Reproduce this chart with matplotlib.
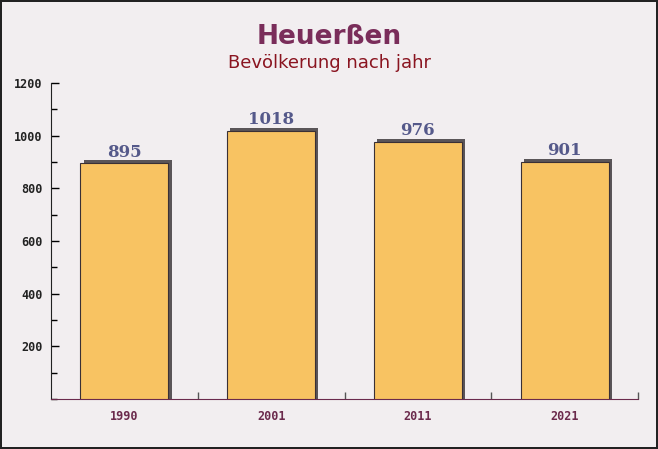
import matplotlib
matplotlib.use("Agg")
import matplotlib.pyplot as plt
from matplotlib.ticker import MultipleLocator

# Daten
jahre = ["1990", "2001", "2011", "2021"]
einwohner = [895, 1018, 976, 901]

titel = "Heuerßen"
untertitel = "Bevölkerung nach jahr"

fig = plt.figure(figsize=(6.58, 4.49), dpi=100)
fig.patch.set_facecolor("#f2eef0")
fig.patch.set_edgecolor("#222222")
fig.patch.set_linewidth(1.5)

ax = fig.add_axes([51 / 658, 50 / 449, 587 / 658, 316 / 449])
ax.set_facecolor("none")

x = list(range(len(jahre)))
breite = 0.6

# Schatten (3D-Effekt)
ax.bar([i + 0.022 for i in x], [v + 12 for v in einwohner], width=breite,
       color="#5a5558", zorder=2)
ax.bar(x, einwohner, width=breite, color="#f8c362", edgecolor="#3a3035",
       linewidth=0.8, zorder=3)

for i, v in zip(x, einwohner):
    ax.annotate(str(v), (i, v), xytext=(0, 2), textcoords="offset points",
                ha="center", va="bottom", fontsize=12, fontweight="bold",
                color="#55598a", family="DejaVu Serif", zorder=4)

ax.set_xlim(-0.5, len(jahre) - 0.5)
ax.set_ylim(0, 1200)
ax.yaxis.set_major_locator(MultipleLocator(200))
ax.yaxis.set_minor_locator(MultipleLocator(100))
ax.set_yticks([200, 400, 600, 800, 1000, 1200])
ax.set_xticks(x)
ax.set_xticklabels(jahre)
ax.set_xticks([0.5, 1.5, 2.5, 3.5], minor=True)

ax.tick_params(axis="y", which="major", direction="in", length=6, width=1,
               labelsize=8.5, labelcolor="#222222", pad=6)
ax.tick_params(axis="y", which="minor", direction="in", length=4, width=1)
ax.tick_params(axis="x", which="major", length=0, labelsize=8.5,
               labelcolor="#6b2a4c", pad=8)
ax.tick_params(axis="x", which="minor", direction="in", length=5, width=1,
               color="#555555")
for lab in ax.get_yticklabels() + ax.get_xticklabels():
    lab.set_family("DejaVu Sans Mono")
    lab.set_fontweight("bold")

for s in ["top", "right"]:
    ax.spines[s].set_visible(False)
ax.spines["left"].set_color("#222222")
ax.spines["bottom"].set_color("#6b2a4c")

fig.text(0.5, 1 - 37 / 449, titel, ha="center", va="center", fontsize=19,
         fontweight="bold", color="#7a2d5a")
fig.text(0.5, 1 - 63 / 449, untertitel, ha="center", va="center",
         fontsize=13, color="#8a1420")

fig.savefig("out.png", dpi=100, facecolor=fig.get_facecolor(),
            edgecolor=fig.get_edgecolor())
